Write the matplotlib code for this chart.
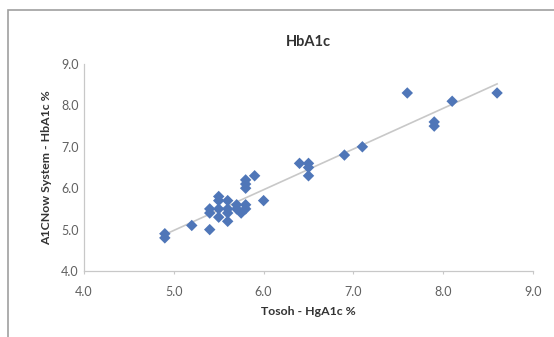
import numpy as np
import matplotlib
matplotlib.use("Agg")
import matplotlib.pyplot as plt
from matplotlib.patches import Rectangle

tosoh = [4.9, 4.9, 5.2, 5.4, 5.4, 5.4, 5.5, 5.5, 5.5, 5.5, 5.6, 5.6, 5.6, 5.6,
         5.7, 5.7, 5.75, 5.8, 5.8, 5.8, 5.8, 5.8, 5.9, 6.0, 6.4, 6.5, 6.5, 6.5,
         6.9, 7.1, 7.6, 7.9, 7.9, 8.1, 8.6]
a1cnow = [4.8, 4.9, 5.1, 5.0, 5.4, 5.5, 5.3, 5.5, 5.7, 5.8, 5.2, 5.4, 5.5, 5.7,
          5.5, 5.6, 5.4, 5.5, 5.6, 6.0, 6.1, 6.2, 6.3, 5.7, 6.6, 6.3, 6.5, 6.6,
          6.8, 7.0, 8.3, 7.5, 7.6, 8.1, 8.3]
ticks = [4.0, 5.0, 6.0, 7.0, 8.0, 9.0]
tick_labels = ["4.0", "5.0", "6.0", "7.0", "8.0", "9.0"]

plt.rcParams['font.family'] = ['Lato', 'DejaVu Sans']

W, H = 554, 337
fig = plt.figure(figsize=(W / 100, H / 100), dpi=100)
fig.patch.set_facecolor('white')
fig.patches.append(Rectangle((8 / W, -0.05), 1.2, 1 - 10 / H + 0.05,
                             transform=fig.transFigure, fill=False,
                             edgecolor='#a0a0a0', linewidth=1.2))

ax = fig.add_axes([84 / W, 1 - 271 / H, (533 - 84) / W, (271 - 64) / H])
ax.set_xlim(4, 9)
ax.set_ylim(4, 9)

x = np.array(tosoh)
y = np.array(a1cnow)
m, b = np.polyfit(x, y, 1)
xs = np.array([x.min(), x.max()])
ax.plot(xs, m * xs + b, color='#c8c8c8', linewidth=1.2, zorder=2)
ax.scatter(x, y, marker='D', s=34, color='#4F76B8', edgecolors='none', zorder=3)

ax.set_xticks(ticks)
ax.set_xticklabels(tick_labels)
ax.set_yticks(ticks)
ax.set_yticklabels(tick_labels)
ax.tick_params(axis='both', colors='#c8c8c8', labelcolor='#606060', labelsize=9,
               length=2.5, width=0.8)
ax.tick_params(axis='x', pad=8)
ax.tick_params(axis='y', pad=4, length=0)
for s in ['top', 'right']:
    ax.spines[s].set_visible(False)
for s in ['left', 'bottom']:
    ax.spines[s].set_color('#c8c8c8')
    ax.spines[s].set_linewidth(0.9)

ax.set_title('HbA1c', fontsize=10.5, fontweight='bold', color='#333333', pad=13)
ax.set_xlabel('Tosoh - HgA1c %', fontsize=8.8, fontweight='bold', color='#333333', labelpad=6)
ax.set_ylabel('A1CNow System - HbA1c %', fontsize=8.8, fontweight='bold', color='#333333', labelpad=6)

fig.savefig('out.png', dpi=100, facecolor='white')
